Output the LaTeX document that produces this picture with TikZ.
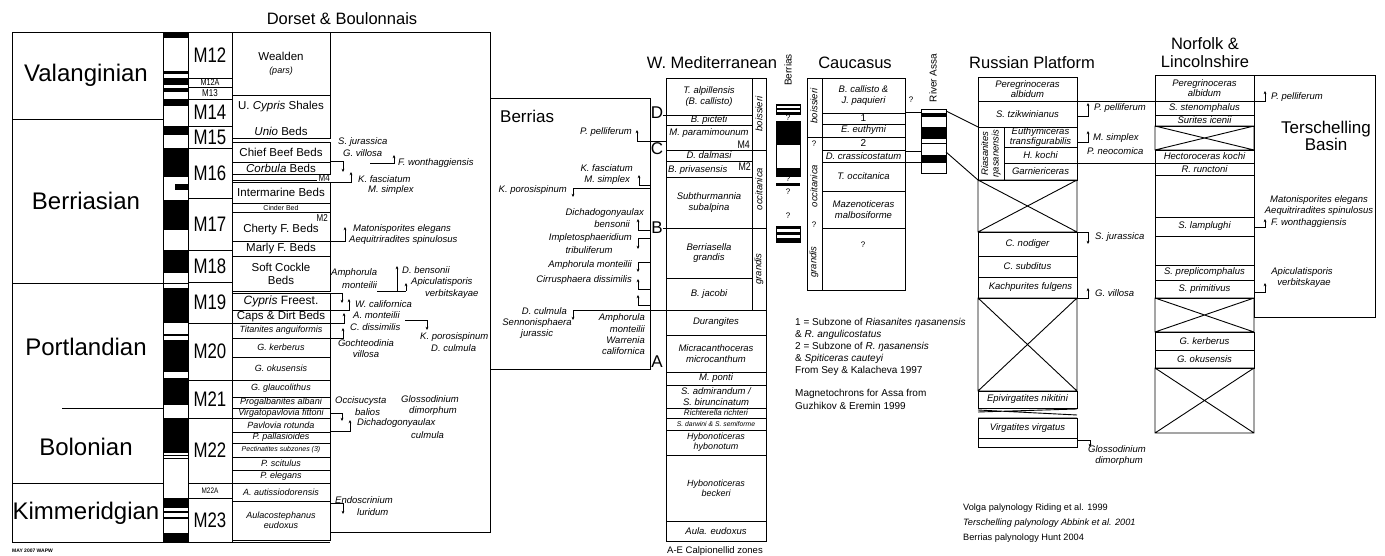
\documentclass[tikz,border=0pt]{standalone}
\usepackage{fontspec}
\setmainfont{Liberation Sans}
\usetikzlibrary{arrows.meta}
\newcommand\ML[2]{{\fontsize{#1}{#1}\selectfont\scalebox{0.8}[1]{#2}}}
\newcommand\zr[6][]{\draw[bx] (#2,#4) rectangle (#3,#5); \node[zt,#1] at ({(#2+#3)/2},{(#4+#5)/2}) {#6};}
\newcommand\xbox[4]{\draw[bx] (#1,#3) rectangle (#2,#4) (#1,#3)--(#2,#4) (#1,#4)--(#2,#3);}
\newcommand\mg[4]{\fill (#1,#3) rectangle (#2,#4);}
\begin{document}
\begin{tikzpicture}[x=1pt,y=-1pt,
  bx/.style={line width=0.9pt},
  zt/.style={inner sep=0pt, align=center, font=\fontsize{9.5}{10.5}\selectfont\itshape},
  bt/.style={font=\fontsize{11.5}{13}\selectfont\upshape},
  zs/.style={font=\fontsize{9}{10}\selectfont\itshape},
  lb/.style={inner sep=0pt, font=\fontsize{9.5}{11}\selectfont\itshape},
  lbl/.style={lb, anchor=west, align=left},
  lbr/.style={lb, anchor=east, align=right},
  lbc/.style={lb, align=center},
  ttl/.style={inner sep=0pt, font=\fontsize{16.5}{18}\selectfont, align=center},
  stg/.style={inner sep=0pt, font=\fontsize{24}{24}\selectfont},
  note/.style={inner sep=0pt, anchor=west, font=\fontsize{10}{11}\selectfont},
  qm/.style={inner sep=0pt, font=\fontsize{8}{8}\selectfont},
  ar/.style={-{Stealth[length=3.2pt,width=2.8pt]}, line width=0.7pt},
  rot/.style={rotate=90, inner sep=0pt, align=center, font=\fontsize{9.5}{10.5}\selectfont\itshape},
]
\fill[white] (0,0) rectangle (1385,556);
\useasboundingbox (0,0) rectangle (1385,556);

% ---------- titles
\node[ttl] (tD) at (342,19) {Dorset \& Boulonnais};
\node[ttl] (tW) at (712,63) {W. Mediterranean};
\node[ttl] (tC) at (855,63) {Caucasus};
\node[ttl] (tR) at (1032,63) {Russian Platform};
\node[ttl] (tN) at (1205,53) {Norfolk \&\\Lincolnshire};
\node[rot, font=\fontsize{10}{10}\selectfont\upshape] (tB) at (788,70) {Berrias};
\node[rot, font=\fontsize{10}{10}\selectfont\upshape] (tA) at (933,78) {River Assa};

% ---------- stage column
\draw[bx] (12,32) rectangle (163,542);
\draw[bx] (12,119)--(163,119) (12,283)--(163,283) (62,408)--(163,408) (12,483)--(163,483);
\node[stg] (s1) at (86,75) {Valanginian};
\node[stg] (s2) at (86,201) {Berriasian};
\node[stg] (s3) at (86,347) {Portlandian};
\node[stg] (s4) at (86,447) {Bolonian};
\node[stg] (s5) at (86,513) {Kimmeridgian};

% ---------- magnetic column Dorset
\draw[bx] (163,32) rectangle (188,542);
\mg{163}{188}{32}{38}\mg{163}{188}{71}{74}\mg{163}{188}{78}{85}\mg{163}{188}{88}{92}
\mg{163}{188}{99}{106}\mg{163}{188}{126}{135}\mg{163}{188}{148}{177}\mg{175}{188}{184}{190}
\mg{163}{188}{200}{230}\mg{163}{188}{250}{273}\mg{163}{188}{283}{284.5}\mg{163}{188}{288}{323}
\mg{163}{188}{334}{335.5}\mg{163}{188}{340}{372}\mg{163}{188}{378}{405}\mg{163}{188}{418}{453}
\mg{163}{188}{455}{456}\mg{163}{188}{457.5}{458.5}\mg{163}{188}{498}{508}\mg{163}{188}{511}{513}
\mg{163}{188}{516.5}{518.5}\mg{163}{188}{533}{542}

% ---------- M column
\draw[bx] (188,32) rectangle (232,78); \node (m12) at (210,55) {\ML{21}{M12}};
\draw[bx] (188,78) rectangle (232,87); \node (m12a) at (210,82.5) {\ML{9}{M12A}};
\draw[bx] (188,87) rectangle (232,99); \node (m13) at (210,93) {\ML{10}{M13}};
\draw[bx] (188,99) rectangle (232,126); \node (m14) at (210,112.5) {\ML{21}{M14}};
\draw[bx] (188,126) rectangle (232,148); \node (m15) at (210,137) {\ML{21}{M15}};
\draw[bx] (188,148) rectangle (232,198); \node (m16) at (210,173) {\ML{21}{M16}};
\draw[bx] (188,198) rectangle (232,250); \node (m17) at (210,224) {\ML{21}{M17}};
\draw[bx] (188,250) rectangle (232,282); \node (m18) at (210,266) {\ML{21}{M18}};
\draw[bx] (188,282) rectangle (232,323); \node (m19) at (210,302.5) {\ML{21}{M19}};
\draw[bx] (188,323) rectangle (232,380); \node (m20) at (210,351.5) {\ML{21}{M20}};
\draw[bx] (188,380) rectangle (232,418); \node (m21) at (210,399) {\ML{21}{M21}};
\draw[bx] (188,418) rectangle (232,483); \node (m22) at (210,450.5) {\ML{21}{M22}};
\draw[bx] (188,483) rectangle (232,498); \node (m22a) at (210,490.5) {\ML{8}{M22A}};
\draw[bx] (188,498) rectangle (232,542); \node (m23) at (210,520) {\ML{21}{M23}};

% ---------- Dorset beds
\zr[bt]{232}{330}{32}{95}{Wealden\\{\itshape\fontsize{9}{10}\selectfont (pars)}}
\draw[bx] (232,95) rectangle (330,138);
\node[zt,bt] at (281,107) {U. \textit{Cypris} Shales};
\node[zt,bt] at (281,131) {\textit{Unio} Beds};
\zr[bt]{232}{330}{142}{162}{Chief Beef Beds}
\zr[bt]{232}{330}{162}{174}{\textit{Corbula} Beds}
\draw[bx] (232,180)--(317,180);
\node[inner sep=0pt, anchor=east] at (330,178) {\ML{10}{M4}};
\zr[bt]{232}{330}{182}{203}{Intermarine Beds}
\zr[font=\fontsize{7}{7}\selectfont]{232}{330}{203}{212}{Cinder Bed}
\zr[bt]{232}{330}{212}{241}{\\[2pt]Cherty F. Beds}
\node[inner sep=0pt, anchor=east] at (328,218) {\ML{10}{M2}};
\zr[bt]{232}{330}{241}{256}{Marly F. Beds}
\zr[bt]{232}{330}{256}{291}{Soft Cockle\\Beds}
\zr[font=\fontsize{12}{13}\selectfont]{232}{330}{293}{310}{\textit{Cypris} Freest.}
\zr[bt]{232}{330}{310}{323}{Caps \& Dirt Beds}
\zr[zs]{232}{330}{323}{338}{Titanites anguiformis}
\zr[zs]{232}{330}{338}{357}{G. kerberus}
\zr[zs]{232}{330}{357}{380}{G. okusensis}
\zr[zs]{232}{330}{380}{397}{G. glaucolithus}
\zr[zs]{232}{330}{397}{408}{Progalbanites albani}
\zr[zs]{232}{330}{408}{418}{Virgatopavlovia fittoni}
\zr[zs]{232}{330}{418}{432}{Pavlovia rotunda}
\zr[zs]{232}{330}{432}{443}{P. pallasioides}
\zr[font=\fontsize{7}{7}\selectfont\itshape]{232}{330}{443}{457}{Pectinatites subzones (3)}
\zr[zs]{232}{330}{457}{470}{P. scitulus}
\zr[zs]{232}{330}{470}{483}{P. elegans}
\zr[zs]{232}{330}{483}{501}{A. autissiodorensis}
\zr[zs]{232}{330}{501}{540}{Aulacostephanus\\eudoxus}
\draw[bx] (232,542)--(330,542);

% ---------- Dorset outer box
\draw[bx] (163,32)--(490,32)--(490,532)--(330,532);

% Dorset labels
\node[lbl] at (338,142) {S. jurassica};
\node[lbl] at (343,153) {G. villosa};
\draw[ar] (330,161) -| (343,172);
\draw[ar] (370,163) -| (394,155);
\node[lbl] at (398,163) {F. wonthaggiensis};
\draw[ar] (330,182) -| (351,172);
\node[lbl] at (358,179) {K. fasciatum};
\node[lbl] at (368,190) {M. simplex};
\draw[ar] (330,241) -| (345,227);
\node[lbl] at (353,229) {Matonisporites elegans};
\node[lbl] at (349,240) {Aequitriradites spinulosus};
\node[lbl] at (331,273) {Amphorula};
\node[lbl] at (342,285) {monteilii};
\draw[bx, line width=0.7pt] (377,291)--(406,291);
\draw[ar] (397,291)--(397,266);
\draw[ar] (406,291)--(406,283);
\node[lbl] at (402,270) {D. bensonii};
\node[lbl] at (411,282) {Apiculatisporis};
\node[lbl] at (425,294) {verbitskayae};
\draw[ar] (330,293) -| (342,303);
\draw[ar] (330,310) -| (349,299);
\node[lbl] at (355,304) {W. californica};
\draw[ar] (330,323) -| (344,313);
\node[lbl] at (353,315) {A. monteilii};
\draw[ar] (330,338) -| (343,328);
\node[lbl] at (350,327) {C. dissimilis};
\draw[ar] (405,320) -| (427,330);
\node[lbl] at (420,337) {K. porosispinum};
\node[lbl] at (431,348) {D. culmula};
\node[lbc] at (366,349) {Gochteodinia\\villosa};
\draw[ar] (330,413) -| (342,421);
\node[lbl] at (335,401) {Occisucysta};
\node[lbl] at (355,412) {balios};
\node[lbc] at (430,406) {Glossodinium\\\hspace*{6pt}dimorphum};
\draw[ar] (330,431) -| (350,420);
\node[lbl] at (357,423) {Dichadogonyaulax};
\node[lbl] at (411,435) {culmula};
\draw[ar] (330,503) -| (343,514);
\node[lbl] at (335,500) {Endoscrinium};
\node[lbl] at (357,512) {luridum};

% ---------- Berrias box
\draw[bx] (490,98) rectangle (650,369);
\node[inner sep=0pt, anchor=west, font=\fontsize{17}{17}\selectfont] (berr) at (500,116) {Berrias};
\node[lbr] at (632,132) {P. pelliferum};
\draw[ar] (666,141) -| (637,130);
\node[lbr] at (633,168) {K. fasciatum};
\node[lbr] at (630,180) {M. simplex};
\draw[ar] (650,185) -| (639,175);
\draw[ar] (650,188) -| (573,197);
\node[lbr] at (567,190) {K. porosispinum};
\node[lbr] at (644,213) {Dichadogonyaulax};
\node[lbr] at (630,224) {bensonii};
\draw[ar] (650,230) -| (638,219);
\node[lbr] at (632,238) {Impletosphaeridium};
\node[lbc] at (589,250) {tribuliferum};
\draw[ar] (650,238) -| (638,249);
\node[lbr] at (632,265) {Amphorula monteilii};
\draw[ar] (650,262) -| (638,272);
\node[lbr] at (632,280) {Cirrusphaera dissimilis};
\draw[ar] (650,289) -| (638,279);
\draw[ar] (650,305) -| (638,295);
\draw[ar] (666,310) -| (573,320);
\node[lbr] at (567,311) {D. culmula};
\node[lbc] at (537,323) {Sennonisphaera};
\node[lbc] at (537,334) {jurassic};
\node[lbr] at (645,318) {Amphorula};
\node[lbr] at (645,329) {monteilii};
\node[lbr] at (645,340) {Warrenia};
\node[lbr] at (645,351) {californica};
\node[inner sep=0pt, font=\fontsize{17}{17}\selectfont] (lD) at (657,113) {D};
\node[inner sep=0pt, font=\fontsize{17}{17}\selectfont] (lC) at (657,149) {C};
\node[inner sep=0pt, font=\fontsize{17}{17}\selectfont] (lB) at (657,228) {B};
\node[inner sep=0pt, font=\fontsize{17}{17}\selectfont] (lA) at (657,362) {A};
\draw[bx] (663,115)--(666,115) (663,228)--(666,228);

% ---------- W. Mediterranean
\zr{666}{752}{78}{115}{T. alpillensis\\(B. callisto)}
\zr{666}{752}{115}{125}{B. picteti}
\draw[bx] (666,125) rectangle (752,150);
\node[zt] at (709,133) {M. paramimounum};
\node[inner sep=0pt, anchor=east] at (750,145) {\ML{11}{M4}};
\zr{666}{752}{150}{161}{D. dalmasi}
\draw[bx] (666,161) rectangle (752,177);
\node[zt, anchor=west] at (668,170) {B. privasensis};
\node[inner sep=0pt, anchor=east] at (751,167) {\ML{11}{M2}};
\zr{666}{752}{177}{228}{Subthurmannia\\subalpina}
\zr{666}{752}{228}{278}{Berriasella\\grandis}
\zr{666}{752}{278}{310}{B. jacobi}
\draw[bx] (752,78) rectangle (766,150); \node[rot] at (759,114) {boissieri};
\draw[bx] (752,150) rectangle (766,228); \node[rot] at (759,189) {occitanica};
\draw[bx] (752,228) rectangle (766,310); \node[rot] at (759,269) {grandis};
\zr{666}{766}{310}{335}{Durangites}
\zr{666}{766}{335}{372}{Micracanthoceras\\microcanthum}
\zr{666}{766}{372}{385}{M. ponti}
\zr{666}{766}{385}{408}{S. admirandum /\\S. biruncinatum}
\zr[font=\fontsize{8}{8}\selectfont\itshape]{666}{766}{408}{418}{Richterella richteri}
\zr[font=\fontsize{6.8}{7}\selectfont\itshape]{666}{766}{418}{430}{S. darwini \& S. semiforme}
\zr[zs]{666}{766}{430}{455}{Hybonoticeras\\hybonotum}
\zr[zs]{666}{766}{455}{521}{Hybonoticeras\\beckeri}
\zr{666}{766}{521}{541}{Aula. eudoxus}
\node[note, font=\fontsize{9.5}{10}\selectfont] at (667,551) {A-E Calpionellid zones};

% ---------- Berrias magnetic column
\draw[bx] (776,104) rectangle (800,114); \mg{776}{800}{104}{106}\mg{776}{800}{108}{110}\mg{776}{800}{112}{114}
\node[qm] at (788,118) {?};
\draw[bx] (776,121) rectangle (800,176); \mg{776}{800}{121}{145}\mg{776}{800}{168}{176}
\node[qm] at (788,179) {?};
\mg{776}{800}{183}{186}
\node[qm] at (788,192) {?};
\node[qm] at (788,216) {?};
\draw[bx] (776,226) rectangle (800,242); \mg{776}{800}{226}{229}\mg{776}{800}{232}{235}\mg{776}{800}{238}{242}

% ---------- Caucasus
\zr{822}{905}{78}{113}{B. callisto \&\\J. paquieri}
\zr[font=\fontsize{10}{10}\selectfont]{822}{905}{113}{124}{1}
\zr{822}{905}{124}{137}{E. euthymi}
\zr[font=\fontsize{10}{10}\selectfont]{822}{905}{137}{150}{2}
\zr{822}{905}{150}{162}{D. crassicostatum}
\zr{822}{905}{162}{191}{T. occitanica}
\zr{822}{905}{191}{228}{Mazenoticeras\\malbosiforme}
\draw[bx] (822,228) rectangle (905,290);
\node[qm] at (863,245) {?};
\draw[bx] (807,78) rectangle (822,290) (807,137)--(822,137);
\node[rot] at (814,106) {boissieri};
\node[qm] at (814,144) {?};
\node[rot] at (814,186) {occitanica};
\node[qm] at (814,225) {?};
\node[rot] at (814,262) {grandis};
\node[qm] at (911,100) {?};
\draw[bx] (905,112)--(921,112) (905,151)--(921,151) (905,162)--(921,162);
\node[note] at (795,323) {1 = Subzone of \textit{Riasanites ŋasanensis}};
\node[note] at (795,335) {\& \textit{R. angulicostatus}};
\node[note] at (795,347) {2 = Subzone of \textit{R. ŋasanensis}};
\node[note] at (795,359) {\& \textit{Spiticeras cauteyi}};
\node[note] at (795,371) {From Sey \& Kalacheva 1997};
\node[note] at (795,394) {Magnetochrons for Assa from};
\node[note] at (795,406) {Guzhikov \& Eremin 1999};

% ---------- River Assa column
\draw[bx] (921,109) rectangle (946,173) (921,143)--(946,143);
\mg{921}{946}{113}{117}\mg{921}{946}{127}{139}\mg{921}{946}{155}{163}
\draw[bx] (946,111)--(978,127) (946,152)--(978,180);

% ---------- Russian Platform
\zr{978}{1077}{77}{101}{Peregrinoceras\\albidum}
\zr{978}{1077}{101}{127}{S. tzikwinianus}
\draw[bx] (978,127) rectangle (1004,180);
\node[rot] at (991,153.5) {Riasanites\\ŋasanensis};
\zr{1004}{1077}{127}{147}{Euthymiceras\\transfigurabilis}
\zr{1004}{1077}{147}{163}{H. kochi}
\zr{1004}{1077}{163}{180}{Garniericeras}
\xbox{978}{1077}{180}{232}
\zr{978}{1077}{232}{256}{C. nodiger}
\zr{978}{1077}{256}{277}{C. subditus}
\zr{978}{1077}{277}{298}{\hspace*{6pt}Kachpurites fulgens}
\xbox{978}{1077}{298}{391}
\zr{978}{1077}{391}{408}{Epivirgatites nikitini}
\draw[bx] (978,412)--(1077,409) (978,410)--(1077,415) (978,418)--(1077,418);
\zr{978}{1077}{418}{438}{Virgatites virgatus}
\draw[bx] (978,438) rectangle (1077,447);
\draw[ar] (1077,116) -| (1088,103);
\node[lbl] at (1094,108) {P. pelliferum};
\draw[ar] (1077,142) -| (1088,131);
\node[lbl] at (1093,138) {M. simplex};
\node[lbl] at (1087,151) {P. neocomica};
\draw[ar] (1077,232) -| (1088,244);
\node[lbl] at (1095,237) {S. jurassica};
\draw[ar] (1077,298) -| (1088,288);
\node[lbl] at (1095,293) {G. villosa};
\draw[ar] (1077,440) -| (1090,447);
\node[lbc] at (1117,456) {Glossodinium\\\hspace*{4pt}dimorphum};
\draw[bx] (1077,101)--(1155,101) (1077,163)--(1155,163);

% ---------- Norfolk & Lincolnshire
\zr{1155}{1254}{75}{101}{Peregrinoceras\\albidum}
\zr{1155}{1254}{101}{115}{S. stenomphalus}
\zr{1155}{1254}{115}{126}{Surites icenii}
\xbox{1155}{1254}{126}{150}
\zr{1155}{1254}{150}{163}{Hectoroceras kochi}
\zr{1155}{1254}{163}{175}{R. runctoni}
\draw[bx] (1155,175) rectangle (1254,217);
\zr{1155}{1254}{217}{236}{S. lamplughi}
\draw[bx] (1155,236) rectangle (1254,265);
\zr{1155}{1254}{265}{280}{S. preplicomphalus}
\zr{1155}{1254}{280}{298}{S. primitivus}
\xbox{1155}{1254}{298}{332}
\zr{1155}{1254}{332}{350}{G. kerberus}
\zr{1155}{1254}{350}{368}{G. okusensis}
\xbox{1155}{1254}{368}{433}

% ---------- Terschelling
\draw[bx] (1254,75) rectangle (1375,317);
\node[inner sep=0pt, align=center, font=\fontsize{17}{12}\selectfont] (ters) at (1326,136) {Terschelling\\Basin};
\draw[ar] (1254,101) -| (1265,91);
\node[lbl] at (1271,97) {P. pelliferum};
\node[lbc] at (1319,206) {Matonisporites elegans\\Aequitriradites spinulosus};
\draw[ar] (1254,227) -| (1265,219);
\node[lbl] at (1271,223) {F. wonthaggiensis};
\draw[ar] (1254,292) -| (1265,283);
\node[lbc] at (1302,278) {Apiculatisporis\\\hspace*{4pt}verbitskayae};

% ---------- notes
\node[note, font=\fontsize{9.2}{10}\selectfont] at (963,508) {Volga palynology Riding et al. 1999};
\node[note, font=\fontsize{9.2}{10}\selectfont\itshape] at (963,523) {Terschelling palynology Abbink et al. 2001};
\node[note, font=\fontsize{9.2}{10}\selectfont] at (963,538) {Berrias palynology Hunt 2004};
\node[note, font=\fontsize{5}{5}\selectfont\bfseries] at (12,551) {MAY 2007 WAPW};
\end{tikzpicture}
\end{document}
